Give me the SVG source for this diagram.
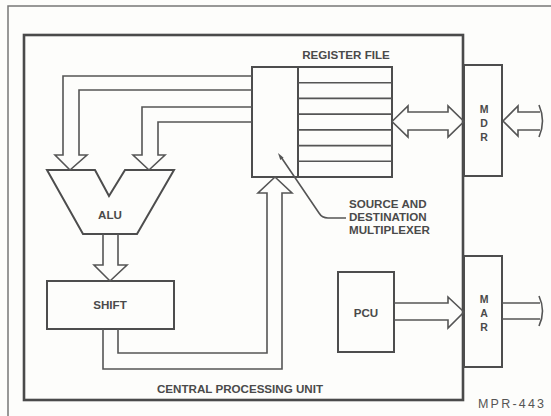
<svg xmlns="http://www.w3.org/2000/svg" width="551" height="416" viewBox="0 0 551 416">
<style>
.ln{fill:none;stroke:#555;stroke-width:1.6;stroke-linejoin:miter}
.bx{fill:none;stroke:#4d4d4d;stroke-width:2}
.cpu{fill:none;stroke:#4a4a4a;stroke-width:2.6}
.fr{fill:none;stroke:#777;stroke-width:1.5}
.t{font-family:"Liberation Sans",Arial,sans-serif;font-weight:bold;font-size:11.6px;fill:#4a4a4a}
.v{font-family:"Liberation Sans",Arial,sans-serif;font-weight:bold;font-size:10.5px;fill:#4a4a4a;text-anchor:middle}
.m{text-anchor:middle}
</style>
<rect width="551" height="416" fill="#fdfdfb"/>
<g id="frame">
<path class="fr" d="M8,416 V6 H551"/>
</g>
<g id="cpu">
<rect class="cpu" x="24" y="35" width="439" height="365"/>
<text class="t m" x="240" y="393">CENTRAL PROCESSING UNIT</text>
</g>
<g id="register-file">
<rect class="bx" x="252" y="67" width="46" height="110"/>
<rect class="bx" x="298" y="67" width="94" height="110"/>
<path class="ln" d="M298,82.7H392M298,98.4H392M298,114.1H392M298,129.9H392M298,145.6H392M298,161.3H392"/>
<text class="t m" x="346" y="59">REGISTER FILE</text>
</g>
<g id="alu">
<polygon class="bx" points="47,170 95,170 109,196 125,170 174,170 137,234 83,234"/>
<text class="t m" x="110" y="219">ALU</text>
</g>
<g id="shift">
<rect class="bx" x="47" y="281" width="127" height="48"/>
<text class="t m" x="110" y="309">SHIFT</text>
</g>
<g id="pcu">
<rect class="bx" x="338" y="272" width="56" height="80"/>
<text class="t m" x="366" y="317">PCU</text>
</g>
<g id="mdr">
<rect class="bx" x="464" y="65" width="38" height="111"/>
<text class="v" x="484" y="113">M</text>
<text class="v" x="484" y="127">D</text>
<text class="v" x="484" y="141">R</text>
</g>
<g id="mar">
<rect class="bx" x="464" y="256" width="38" height="111"/>
<text class="v" x="484" y="303">M</text>
<text class="v" x="484" y="317">A</text>
<text class="v" x="484" y="331">R</text>
</g>
<g id="mux-label">
<text class="t" x="349" y="208">SOURCE AND</text>
<text class="t" x="349" y="221">DESTINATION</text>
<text class="t" x="349" y="234">MULTIPLEXER</text>
</g>
<g id="connectors">
<path class="ln" d="M252,76 H63 V155 H55 L70,170 L87,155 H79 V90 H252"/>
<path class="ln" d="M252,107 H142 V155 H133 L149,170 L165,155 H158 V122 H252"/>
<path class="ln" d="M103,234 V265 H94 L110,281 L127,265 H118 V234"/>
<path class="ln" d="M103,329 V369 H282 V193 H292 L275,177 L258,193 H267 V353 H118 V329"/>
<path class="ln" d="M392,121.5 L408,106 V112 H448 V106 L464,121.5 L448,137 V130 H408 V137 Z"/>
<path class="ln" d="M540,112 H518 V106 L503,121 L518,136 V130 H540"/>
<path class="ln" d="M539,105 Q546,121 539,137" stroke-width="1.1"/>
<path class="ln" d="M394,303 H448 V297 L464,312 L448,328 V320 H394"/>
<path class="ln" d="M502,303 H540 M502,319 H540"/>
<path class="ln" d="M539,296 Q546,311 539,326" stroke-width="1.1"/>
<path class="ln" d="M281,157 L319,213 Q322,218 328,218 H346" stroke-width="1.2"/>
<polygon points="278,153 283.6,157.7 280.3,159.9" fill="#555"/>
</g>
<text x="478" y="408" font-family="'Liberation Sans',Arial,sans-serif" font-size="12.5" letter-spacing="2.2" fill="#555">MPR-443</text>
</svg>
